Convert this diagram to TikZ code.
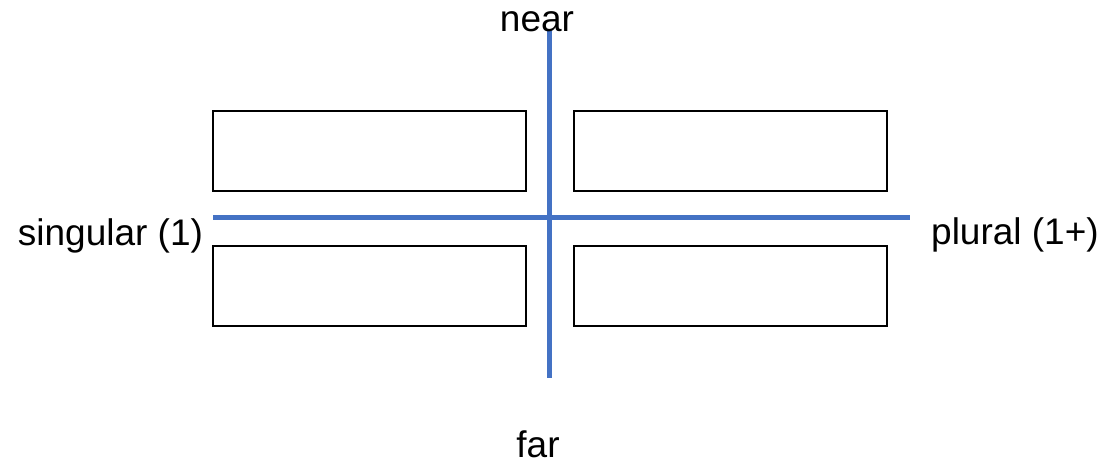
\documentclass[tikz,border=0pt]{standalone}
\usepackage{fontspec}
\setmainfont{Liberation Sans}
\usepackage{tikz}

\definecolor{axisblue}{HTML}{4472C4}

\begin{document}
\begin{tikzpicture}[x=1pt,y=-1pt]
\tikzstyle{every node}+=[inner sep=0pt]
\tikzstyle{cell}=[draw=black, line width=2pt, minimum width=313pt, minimum height=80pt]
\tikzstyle{axis}=[draw=axisblue, line width=5.5pt]
\tikzstyle{lbl}=[font=\fontsize{37}{44}\selectfont, anchor=base]
\useasboundingbox (0,0) rectangle (1112,472);
% quadrant boxes
\node [cell] (nearsing) at (369.5,150.5) {};
\node [cell] (nearplur) at (730,150.5) {};
\node [cell] (farsing) at (369.5,285.5) {};
\node [cell] (farplur) at (730,285.5) {};
% axis ends
\coordinate (top) at (549.5,30);
\coordinate (bottom) at (549.5,378);
\coordinate (left) at (213,217.5);
\coordinate (right) at (910,217.5);
\draw [axis] (left) -- (right);
\draw [axis] (top) -- (bottom);
% labels
\node [lbl] (near) at (537,31) {near};
\node [lbl] (far) at (538,457) {far};
\node [lbl] (singular) at (110.5,245) {singular (1)};
\node [lbl] (plural) at (1015,244) {plural (1+)};
\end{tikzpicture}
\end{document}
